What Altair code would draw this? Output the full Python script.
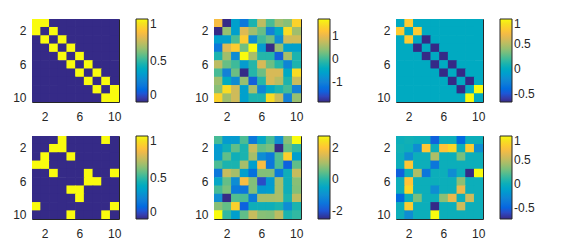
import altair as alt
import pandas as pd

rows = list(range(1, 11))
cols = list(range(1, 11))
axis_ticks = [2, 6, 10]

PARULA = ["#352a87", "#353dad", "#2053d4", "#0268e1", "#0d75dc", "#1481d6",
          "#108ed2", "#079ccf", "#06a7c6", "#0faeb9", "#25b5a9", "#42bb98",
          "#65be86", "#87bf77", "#a5be6b", "#c0bc60", "#d9ba56", "#f1b94a",
          "#ffc337", "#fad32a", "#f5e41d", "#f9fb0e"]

m1 = [
    [1, 1, 0, 0, 0, 0, 0, 0, 0, 0],
    [1, 0, 1, 0, 0, 0, 0, 0, 0, 0],
    [0, 1, 0, 1, 0, 0, 0, 0, 0, 0],
    [0, 0, 1, 0, 1, 0, 0, 0, 0, 0],
    [0, 0, 0, 1, 0, 1, 0, 0, 0, 0],
    [0, 0, 0, 0, 1, 0, 1, 0, 0, 0],
    [0, 0, 0, 0, 0, 1, 0, 1, 0, 0],
    [0, 0, 0, 0, 0, 0, 1, 0, 1, 0],
    [0, 0, 0, 0, 0, 0, 0, 1, 0, 1],
    [0, 0, 0, 0, 0, 0, 0, 0, 1, 1],
]

m2 = [
    [1.11, -1.84, -0.60, -1.13, -0.21, 0.68, 0.04, 0.50, 0.36, 1.36],
    [-1.84, 0.43, -0.60, 0.90, 0.50, 0.20, -1.00, -0.40, 1.45, 0.50],
    [-0.60, -0.60, 0.05, 1.30, -0.85, 0.00, 0.22, -0.85, 0.80, 0.80],
    [-1.13, 0.90, 1.30, 0.25, 1.71, -0.65, -1.84, 0.45, -0.60, -0.60],
    [-0.21, 0.50, -0.85, 1.71, 0.55, -0.15, -0.15, -1.41, 0.55, -0.20],
    [0.68, 0.20, 0.00, -0.65, -0.15, 0.85, 0.22, -0.15, -0.95, -0.20],
    [0.04, -1.00, 0.22, -1.84, -0.15, 0.22, 0.85, 0.85, -0.45, 1.45],
    [0.50, -0.40, -0.85, 0.45, -1.41, -0.15, 0.85, 0.65, -0.20, 0.75],
    [0.36, 1.45, 0.80, -0.60, 0.55, -0.95, -0.45, -0.20, 0.02, -1.00],
    [1.36, 0.50, 0.80, -0.60, -0.20, -0.20, 1.45, 0.75, -1.00, 0.45],
]

m3 = [
    [0, 0.8, 0, 0, 0, 0, 0, 0, 0, 0],
    [0.8, 0, 0.8, 0, 0, 0, 0, 0, 0, 0],
    [0, 0.8, 0, -0.67, 0, 0, 0, 0, 0, 0],
    [0, 0, -0.67, 0, -0.67, 0, 0, 0, 0, 0],
    [0, 0, 0, -0.67, 0, -0.67, 0, 0, 0, 0],
    [0, 0, 0, 0, -0.67, 0, -0.67, 0, 0, 0],
    [0, 0, 0, 0, 0, -0.67, 0, -0.67, 0, 0],
    [0, 0, 0, 0, 0, 0, -0.67, 0, -0.67, 0],
    [0, 0, 0, 0, 0, 0, 0, -0.67, 0, 1],
    [0, 0, 0, 0, 0, 0, 0, 0, 1, 0],
]

m4 = [
    [0, 0, 0, 1, 0, 0, 0, 0, 1, 0],
    [0, 0, 1, 1, 0, 0, 0, 0, 0, 0],
    [0, 1, 0, 0, 1, 0, 0, 0, 0, 0],
    [1, 1, 0, 0, 0, 0, 0, 0, 0, 0],
    [0, 0, 1, 0, 0, 0, 1, 0, 0, 1],
    [0, 0, 0, 0, 0, 0, 1, 1, 0, 0],
    [0, 0, 0, 0, 1, 1, 0, 0, 0, 0],
    [0, 0, 0, 0, 0, 1, 0, 0, 0, 0],
    [1, 0, 0, 0, 0, 0, 0, 0, 0, 1],
    [0, 0, 0, 0, 1, 0, 0, 0, 1, 0],
]

m5 = [
    [0.27, -0.78, -0.78, 0.30, -1.46, -0.50, 0.27, -1.00, 0.75, 2.74],
    [-0.78, -0.25, 0.45, -0.10, 1.30, 0.48, 0.65, -2.51, 0.48, 0.10],
    [-0.78, 0.45, -0.25, -0.10, 1.00, -1.04, -1.40, 0.35, 2.20, -0.70],
    [0.30, -0.10, -0.10, 1.00, -0.70, 1.85, -1.50, 0.30, -1.83, 0.45],
    [-1.46, 1.30, 1.00, -0.70, -1.60, 0.70, 0.70, -1.40, -0.25, 1.30],
    [-0.50, 0.48, -1.04, 1.85, 0.70, -2.09, -0.80, 1.00, -0.25, 0.75],
    [0.27, 0.65, -1.40, -1.50, 0.70, -0.80, -0.70, 1.00, -0.25, 0.70],
    [-1.00, -2.51, 0.35, 0.30, -1.40, 1.00, 1.00, 1.05, -0.10, 1.20],
    [0.75, 0.48, 2.20, -1.83, -0.25, -0.25, -0.25, -0.10, -1.04, -0.10],
    [2.74, 0.10, -0.70, 0.45, 1.30, 0.75, 0.70, 1.20, -0.10, 0.10],
]

m6 = [
    [0, 0.03, 0, 0, -0.52, 0, 0, -0.48, 0, 0],
    [0.03, 0, -0.25, 0.77, 0, 0.75, 0.85, 0, 0.80, -0.25],
    [0, -0.25, 0, 0, 0.45, 0, 0, 0.30, 0, 0],
    [0, 0.77, 0, 0, -0.40, 0, 0, 0, 0, 0],
    [-0.52, 0, 0.45, -0.40, 0, 0, -0.25, 0, -0.74, 1.00],
    [0, 0.75, 0, 0, 0, 0, 0, 0.35, 0, 0],
    [0, 0.85, 0, 0, -0.25, 0, 0, 0.65, 0, 0],
    [-0.48, 0, 0.30, 0, 0, 0.35, 0.65, 0, 0.55, 0],
    [0, 0.80, 0, 0, -0.74, 0, 0, 0.55, 0, 0],
    [0, -0.25, 0, 0, 1.00, 0, 0, 0, 0, 0],
]

clims = [(0, 1), (-1.84, 1.71), (-0.67, 1.0), (0, 1), (-2.51, 2.74), (-0.74, 1.0)]
cbar_ticks = [[0, 0.5, 1], [-1, 0, 1], [-0.5, 0, 0.5, 1],
              [0, 0.5, 1], [-2, 0, 2], [-0.5, 0, 0.5, 1]]
mats = [m1, m2, m3, m4, m5, m6]


def panel(mat, clim, ticks):
    df = pd.DataFrame([{"r": r, "c": c, "v": mat[r - 1][c - 1]}
                       for r in rows for c in cols])
    lo, hi = clim
    n = len(PARULA)
    dom = [lo + (hi - lo) * k / (n - 1) for k in range(n)]
    return alt.Chart(df).mark_rect(
        strokeWidth=0,
        width=alt.RelativeBandSize(band=1.08),
        height=alt.RelativeBandSize(band=1.08),
        clip=True,
    ).encode(
        x=alt.X("c:O", title=None,
                scale=alt.Scale(paddingInner=0, paddingOuter=0),
                axis=alt.Axis(values=axis_ticks, labelAngle=0, labelPadding=9)),
        y=alt.Y("r:O", title=None,
                scale=alt.Scale(paddingInner=0, paddingOuter=0),
                axis=alt.Axis(values=axis_ticks, labelPadding=6)),
        color=alt.Color("v:Q",
                        scale=alt.Scale(type="linear", domain=dom, range=PARULA),
                        legend=alt.Legend(title=None, values=ticks,
                                          labelBaseline="middle",
                                          labelExpr="datum.value + ''")),
    ).properties(width=87, height=83)


charts = [panel(m, c, t) for m, c, t in zip(mats, clims, cbar_ticks)]

chart = alt.concat(*charts, columns=3, spacing={"row": 34, "column": 95},
                   bounds="flush").resolve_scale(color="independent").properties(
    padding={"left": 12, "top": 18, "right": 0, "bottom": 0}
).configure(font="Liberation Sans").configure_view(
    stroke="#262626", strokeWidth=1
).configure_axis(
    labelFont="Liberation Sans", labelFontSize=12, labelColor="#262626",
    domain=False, ticks=False, grid=False
).configure_legend(
    gradientLength=83, gradientThickness=12, gradientStrokeColor="#262626",
    gradientStrokeWidth=1, labelFont="Liberation Sans", labelFontSize=12,
    labelColor="#262626", labelOffset=6, offset=17, padding=0,
    labelOverlap=False
)

chart.save("out.html", embed_options={"renderer": "svg", "actions": False})
